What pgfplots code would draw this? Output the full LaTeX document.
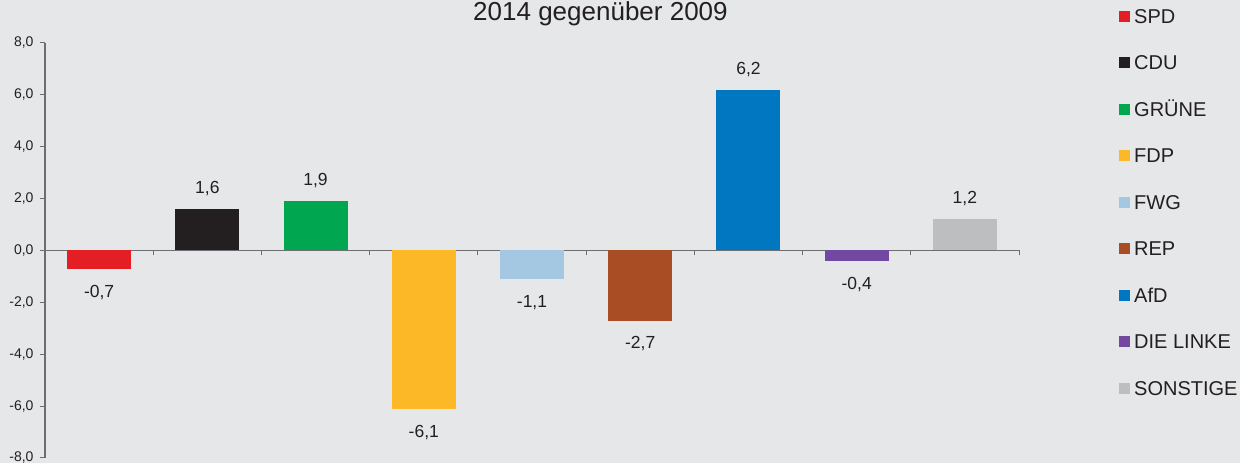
\documentclass[border=0pt]{standalone}
\usepackage{fontspec}
\setmainfont{Liberation Sans}
\usepackage{pgfplots}
\pgfplotsset{compat=1.18}
\definecolor{bgc}{HTML}{E6E7E8}
\definecolor{axc}{HTML}{6D6E71}
\definecolor{txt}{HTML}{231F20}
\definecolor{cSPD}{HTML}{E41E25}
\definecolor{cCDU}{HTML}{231F20}
\definecolor{cGRU}{HTML}{00A650}
\definecolor{cFDP}{HTML}{FDB827}
\definecolor{cFWG}{HTML}{A5C8E2}
\definecolor{cREP}{HTML}{A84D24}
\definecolor{cAfD}{HTML}{0077C0}
\definecolor{cLIN}{HTML}{7248A0}
\definecolor{cSON}{HTML}{BCBEC0}
\pgfplotsset{
  posl/.style={nodes near coords, every node near coord/.append style={anchor=south, yshift=13bp}},
  negl/.style={nodes near coords, every node near coord/.append style={anchor=north, yshift=-16bp}},
}
\begin{document}
\begin{tikzpicture}
\fill[bgc] (-45bp,-5bp) rectangle (1195bp,458bp);
\begin{axis}[
  scale only axis, width=974bp, height=415bp,
  ybar, bar width=64bp, bar shift=0pt,
  xmin=-0.5, xmax=8.5, ymin=-8, ymax=8,
  axis y line=left, axis x line=middle,
  axis line style={axc, line width=1.2bp, -},
  xtick={0.5,1.5,...,8.5}, xticklabels={},
  ytick={-8,-6,...,8},
  tick style={axc, line width=1bp},
  major tick length=5bp,
  xtick align=outside, ytick align=outside,
  /pgf/number format/.cd, fixed, fixed zerofill, precision=1, use comma, assume math mode=true,
  /pgfplots/.cd,
  yticklabel style={font=\fontsize{14bp}{14bp}\selectfont, text=txt, xshift=-3bp},
  nodes near coords style={font=\fontsize{17.5bp}{17.5bp}\selectfont, text=txt, inner sep=0pt},
  legend cell align=left,
  legend style={at={(axis description cs:1.0996,1.0844)}, anchor=north west, draw=none, fill=none,
    font=\fontsize{20bp}{20bp}\selectfont, text=txt, row sep=33.5bp, column sep=0pt,
    nodes={inner sep=0pt, text height=13bp, text depth=0pt}},
  legend image code/.code={\fill[#1] (0bp,-5bp) rectangle (11bp,6bp); \path (15bp,0bp);},
  clip=false,
]
\addplot[fill=cSPD, draw=none, negl] coordinates {(0,-0.7)};
\addplot[fill=cCDU, draw=none, posl] coordinates {(1,1.6)};
\addplot[fill=cGRU, draw=none, posl] coordinates {(2,1.9)};
\addplot[fill=cFDP, draw=none, negl] coordinates {(3,-6.1)};
\addplot[fill=cFWG, draw=none, negl] coordinates {(4,-1.1)};
\addplot[fill=cREP, draw=none, negl] coordinates {(5,-2.7)};
\addplot[fill=cAfD, draw=none, posl] coordinates {(6,6.2)};
\addplot[fill=cLIN, draw=none, negl] coordinates {(7,-0.4)};
\addplot[fill=cSON, draw=none, posl] coordinates {(8,1.2)};
\legend{SPD,CDU,GRÜNE,FDP,FWG,REP,AfD,DIE LINKE,SONSTIGE}
\node[anchor=base, font=\fontsize{26bp}{26bp}\selectfont, text=txt] at (axis description cs:0.5703,1.0537) {2014 gegenüber 2009};
\end{axis}
\pgfresetboundingbox
\path (-45bp,-5bp) rectangle (1195bp,458bp);
\end{tikzpicture}
\end{document}
